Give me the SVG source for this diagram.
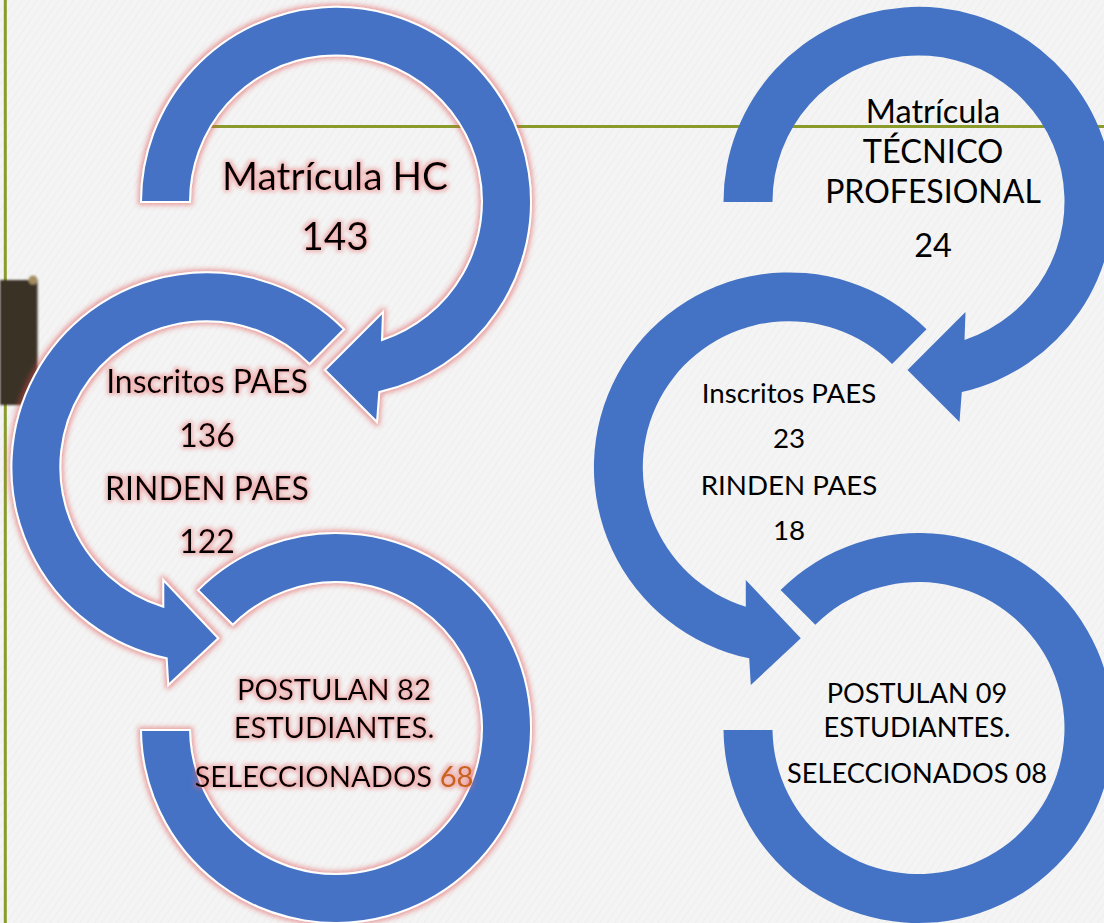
<svg xmlns="http://www.w3.org/2000/svg" width="1104" height="923" viewBox="0 0 1104 923">
  <defs>
    <style>
      .ring { fill: #4472C4; }
      .ringL { fill: #4472C4; stroke: #FFFFFF; stroke-width: 2; stroke-linejoin: miter; }
      .t { font-family: Lato, "Open Sans", "DejaVu Sans", sans-serif; fill: #000000; text-anchor: middle; }
      .green { stroke: #8A9B2C; stroke-width: 3; fill: none; }
    </style>
    <pattern id="tex" width="6" height="6" patternUnits="userSpaceOnUse" patternTransform="rotate(35)">
      <rect width="6" height="6" fill="#F4F4F4"/>
      <line x1="0" y1="0" x2="0" y2="6" stroke="#EBEBEB" stroke-width="1.2"/>
    </pattern>
    <filter id="shapeGlow" x="-15%" y="-15%" width="130%" height="130%">
      <feMorphology in="SourceAlpha" operator="dilate" radius="2" result="d"/>
      <feGaussianBlur in="d" stdDeviation="2.5" result="b"/>
      <feFlood flood-color="#E04848" flood-opacity="0.5"/>
      <feComposite in2="b" operator="in" result="g"/>
      <feMerge><feMergeNode in="g"/><feMergeNode in="SourceGraphic"/></feMerge>
    </filter>
    <filter id="textGlow" x="-10%" y="-30%" width="120%" height="160%">
      <feMorphology in="SourceAlpha" operator="dilate" radius="1.5" result="d"/>
      <feGaussianBlur in="d" stdDeviation="2.2" result="b"/>
      <feFlood flood-color="#E86A6A" flood-opacity="0.45"/>
      <feComposite in2="b" operator="in" result="g"/>
      <feMerge><feMergeNode in="g"/><feMergeNode in="SourceGraphic"/></feMerge>
    </filter>
    <filter id="soft" x="-20%" y="-20%" width="140%" height="140%">
      <feGaussianBlur stdDeviation="1"/>
    </filter>
    <path id="arrowA" d="M141,202 A195,195 0 1 1 379.3,392 L377,422 L325,370 L383,312 L382,340 A146,146 0 1 0 190,202 Z"/>
    <path id="arrowB" d="M344,329.2 A195,195 0 1 0 166.7,658.3 L168.3,685 L218.3,638.3 L163.3,580 L163.3,606.7 A146,146 0 1 1 309.6,364 Z"/>
    <path id="ringC" d="M141,730 A195,195 0 1 0 198.1,590.1 L232.8,624.8 A146,146 0 1 1 190,730 Z"/>
  </defs>

  <g id="background">
    <rect x="0" y="0" width="1104" height="923" fill="url(#tex)"/>
    <line class="green" x1="5.3" y1="0" x2="5.3" y2="923"/>
    <line class="green" x1="180" y1="126.5" x2="1104" y2="126.5"/>
    <g filter="url(#soft)">
      <rect x="0" y="280" width="37.5" height="125" fill="#3A3027"/>
      <circle cx="33" cy="280" r="4.5" fill="#A48C62"/>
    </g>
  </g>

  <g id="connectors"></g>

  <g id="node-matricula-hc">
    <use href="#arrowA" class="ringL" filter="url(#shapeGlow)"/>
    <g filter="url(#textGlow)">
      <text class="t" x="335" y="190" font-size="38.8">Matrícula HC</text>
      <text class="t" x="335" y="250" font-size="38.8">143</text>
    </g>
  </g>

  <g id="node-inscritos-hc">
    <use href="#arrowB" class="ringL" filter="url(#shapeGlow)"/>
    <g filter="url(#textGlow)">
      <text class="t" x="207" y="393" font-size="32">Inscritos PAES</text>
      <text class="t" x="207" y="447" font-size="32">136</text>
      <text class="t" x="207" y="500" font-size="32">RINDEN PAES</text>
      <text class="t" x="207" y="553" font-size="32">122</text>
    </g>
  </g>

  <g id="node-postulan-hc">
    <use href="#ringC" class="ringL" filter="url(#shapeGlow)"/>
    <g filter="url(#textGlow)">
      <text class="t" x="334" y="700" font-size="29.2">POSTULAN 82</text>
      <text class="t" x="334" y="738" font-size="29.2">ESTUDIANTES.</text>
      <text class="t" x="334" y="787" font-size="29.2">SELECCIONADOS <tspan fill="#C8621A">68</tspan></text>
    </g>
  </g>

  <g id="node-matricula-tp">
    <use href="#arrowA" class="ring" transform="translate(582.5,0)"/>
    <text class="t" x="933" y="123" font-size="32.5">Matrícula</text>
    <text class="t" x="933" y="163" font-size="32.5">TÉCNICO</text>
    <text class="t" x="933" y="203" font-size="32">PROFESIONAL</text>
    <text class="t" x="933" y="257" font-size="32.5">24</text>
  </g>

  <g id="node-inscritos-tp">
    <use href="#arrowB" class="ring" transform="translate(582.5,0)"/>
    <text class="t" x="789" y="403" font-size="27.7">Inscritos PAES</text>
    <text class="t" x="789" y="448" font-size="27.7">23</text>
    <text class="t" x="789" y="495" font-size="27.7">RINDEN PAES</text>
    <text class="t" x="789" y="540" font-size="27.7">18</text>
  </g>

  <g id="node-postulan-tp">
    <use href="#ringC" class="ring" transform="translate(582.5,0)"/>
    <text class="t" x="917" y="703" font-size="27.2">POSTULAN 09</text>
    <text class="t" x="917" y="737" font-size="27.2">ESTUDIANTES.</text>
    <text class="t" x="917" y="783" font-size="27.2">SELECCIONADOS 08</text>
  </g>
</svg>
